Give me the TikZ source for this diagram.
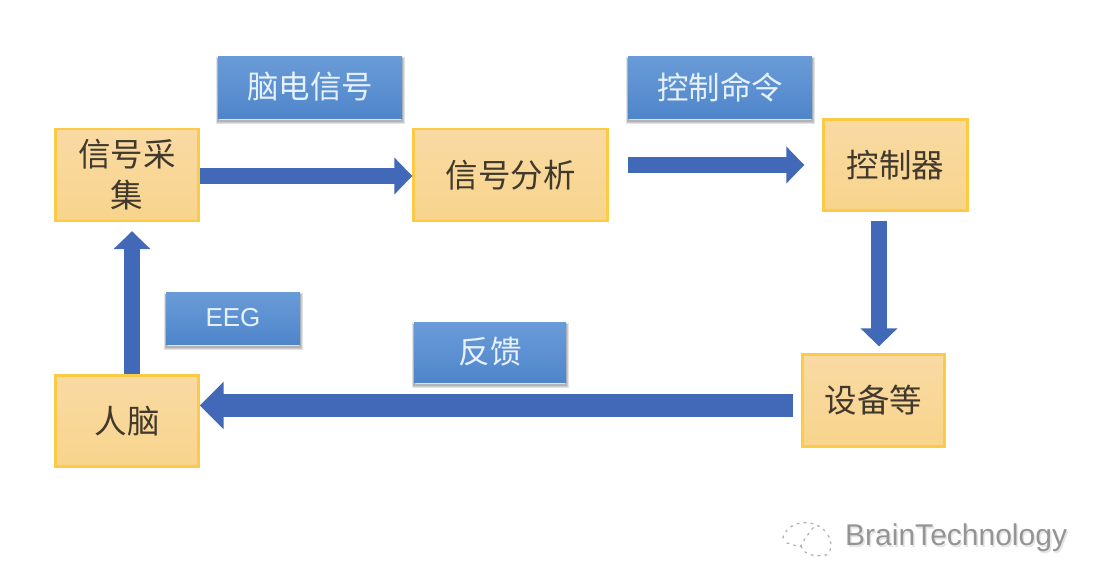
\documentclass[tikz,border=0pt]{standalone}
\usepackage{fontspec}
\newfontfamily\cjk{Noto Sans CJK SC}
\setsansfont{Liberation Sans}
\usetikzlibrary{arrows.meta}
\definecolor{arrowblue}{HTML}{4268B8}
\definecolor{boxedge}{HTML}{FCCB45}
\definecolor{boxtop}{HTML}{F9DAA4}
\definecolor{boxbot}{HTML}{F8D48C}
\definecolor{labtop}{HTML}{6A9BD8}
\definecolor{labbot}{HTML}{4F86CA}
\definecolor{inktext}{HTML}{40392C}
\definecolor{labtext}{HTML}{E6F1FB}
\tikzset{
  x=1pt,y=-1pt,
  softlayer/.style={preaction={draw=black,draw opacity=.11,line width=#1,transform canvas={yshift=-3pt}}},
  orangebox/.style={draw=boxedge,line width=2.4pt,top color=boxtop,bottom color=boxbot,
    inner sep=0pt,align=center,text=inktext,font=\cjk\fontsize{32.5}{41}\selectfont},
  bluelabel/.style={softlayer=5pt,softlayer=3pt,softlayer=1.5pt,
    top color=labtop,bottom color=labbot,inner sep=0pt,text=labtext,
    font=\cjk\fontsize{31.5}{38}\selectfont},
  blockarrow/.style={draw=arrowblue,line width=16pt,
    -{Triangle[length=18pt,width=36pt,color=arrowblue]}},
  bigarrow/.style={draw=arrowblue,line width=23pt,
    -{Triangle[length=24pt,width=46pt,color=arrowblue]}},
  markdots/.style={draw=black!30,line width=1.3pt,dash pattern=on 2pt off 5pt,line cap=round},
  marktext/.style={inner sep=0pt,anchor=west,font=\sffamily\fontsize{30}{36}\selectfont}
}
\begin{document}
\begin{tikzpicture}
\useasboundingbox (0,0) rectangle (1108,576);
\fill[white] (0,0) rectangle (1108,576);
% boxes
\node[orangebox,minimum width=143pt,minimum height=92pt] (sig) at (127,175) {信号采\\集};
\node[orangebox,minimum width=194pt,minimum height=92pt] (ana) at (510.5,175) {信号分析};
\node[orangebox,minimum width=144pt,minimum height=91pt] (ctl) at (895.5,165) {控制器};
\node[orangebox,minimum width=142pt,minimum height=92pt] (dev) at (873.5,400.5) {\raisebox{-2pt}{设备等}};
\node[orangebox,minimum width=143pt,minimum height=91pt] (brain) at (127,421) {人脑};
% labels
\node[bluelabel,minimum width=184pt,minimum height=62pt] (l1) at (310,87) {脑电信号};
\node[bluelabel,minimum width=184pt,minimum height=62pt] (l2) at (720,87) {控制命令};
\node[bluelabel,minimum width=134pt,minimum height=52pt] (l3) at (233,318) {\raisebox{-2pt}{\sffamily\fontsize{26}{32}\selectfont EEG}};
\node[bluelabel,minimum width=152pt,minimum height=60pt] (l4) at (490,352) {反馈};
% arrow ends
\coordinate (a2s) at (628,165);
% connectors
\draw[blockarrow] ([yshift=-1pt]sig.east) -- ([yshift=-1pt]ana.west);
\draw[blockarrow,shorten >=18pt] (a2s) -- (ctl.west);
\draw[blockarrow,shorten <=9pt,shorten >=7pt] ([xshift=-16.5pt]ctl.south) -- ([xshift=5.5pt]dev.north);
\draw[bigarrow,shorten <=8pt] ([yshift=-5pt]dev.west) -- ([yshift=15.5pt]brain.east);
\draw[blockarrow,shorten >=9pt] ([xshift=5pt]brain.north) -- ([xshift=5pt]sig.south);
% watermark
\draw[markdots] (783,538) .. controls (786,522) and (812,516) .. (826,532);
\draw[markdots] (787,543) -- (800,547) -- (806,537) -- (816,524);
\draw[markdots] (801,546) .. controls (804,556) and (818,557) .. (826,555) .. controls (833,552) and (832,538) .. (826,533);
\node[marktext,text=black!10] (wm2) at (846.5,539.5) {BrainTechnology};
\node[marktext,text=black!42] (wm) at (845,538) {BrainTechnology};
\end{tikzpicture}
\end{document}
